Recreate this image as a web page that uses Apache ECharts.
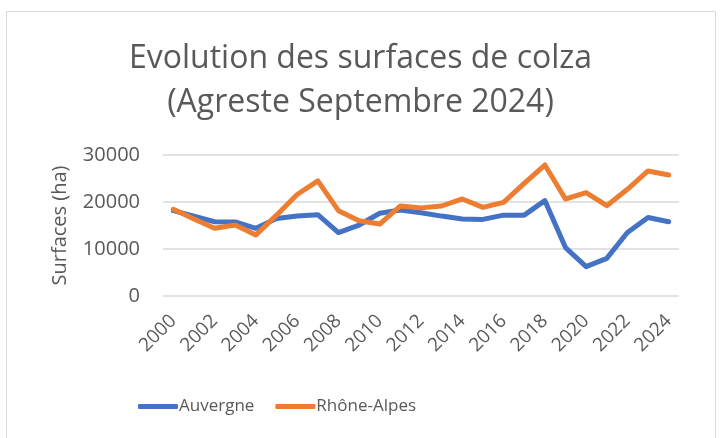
<!DOCTYPE html>
<html>
<head>
<meta charset="utf-8">
<script src="https://cdn.jsdelivr.net/npm/echarts@6/dist/echarts.min.js"></script>
<style>
  html, body { margin: 0; padding: 0; background: #fff; }
  #chart { width: 721px; height: 438px; }
</style>
</head>
<body>
<div id="chart"></div>
<script>
// années
var years = ['2000','2001','2002','2003','2004','2005','2006','2007','2008','2009','2010','2011','2012',
  '2013','2014','2015','2016','2017','2018','2019','2020','2021','2022','2023','2024'];
// surfaces en ha
var auvergne = [18150,17000,15800,15750,14400,16500,17000,17300,13500,15100,17600,18300,17700,
  17000,16400,16300,17200,17200,20300,10300,6250,8000,13500,16700,15800];
var rhoneAlpes = [18450,16400,14400,15100,13000,17200,21600,24500,18150,16000,15300,19150,18750,
  19150,20650,18870,19930,23970,27870,20640,21980,19220,22700,26600,25750];

var font = '"Open Sans", "Noto Sans", sans-serif';
var grey = '#595959';

var myChart = echarts.init(document.getElementById('chart'));
var option = {
  color: ['#4472C4', '#ED7D31'],
  textStyle: { fontFamily: font },
  graphic: [{
    type: 'rect',
    shape: { x: 6.5, y: 11.5, width: 709, height: 440 },
    style: { fill: 'none', stroke: '#d9d9d9', lineWidth: 1 },
    silent: true
  }],
  title: {
    text: 'Evolution des surfaces de colza\n(Agreste Septembre 2024)',
    left: 'center',
    top: 32,
    textStyle: { fontSize: 32, fontWeight: 'normal', color: grey, lineHeight: 44, fontFamily: font }
  },
  legend: {
    data: ['Auvergne', 'Rhône-Alpes'],
    top: 393,
    left: 133,
    itemWidth: 40,
    itemHeight: 5,
    itemGap: 21,
    icon: 'roundRect',
    textStyle: { fontSize: 17, color: grey, fontFamily: font, padding: [0, 0, 0, -4] }
  },
  grid: { left: 163, right: 42, top: 155, bottom: 142, containLabel: false },
  xAxis: {
    type: 'category',
    data: years,
    boundaryGap: true,
    axisLine: { show: false },
    axisTick: { show: false },
    axisLabel: { interval: 1, rotate: 45, fontSize: 19, color: grey, margin: 22, fontFamily: font }
  },
  yAxis: {
    type: 'value',
    min: 0,
    max: 30000,
    interval: 10000,
    name: 'Surfaces (ha)',
    nameLocation: 'middle',
    nameGap: 93,
    nameTextStyle: { fontSize: 20, color: grey, fontFamily: font },
    axisLabel: { fontSize: 20, color: grey, margin: 23, fontFamily: font, formatter: function (v) { return String(v); } },
    splitLine: { lineStyle: { color: '#d9d9d9', width: 1.5 } }
  },
  series: [
    {
      name: 'Auvergne',
      type: 'line',
      data: auvergne,
      symbol: 'none',
      lineStyle: { width: 5, cap: 'round', join: 'round' }
    },
    {
      name: 'Rhône-Alpes',
      type: 'line',
      data: rhoneAlpes,
      symbol: 'none',
      lineStyle: { width: 5, cap: 'round', join: 'round' }
    }
  ]
};
myChart.setOption(option);
</script>
</body>
</html>
